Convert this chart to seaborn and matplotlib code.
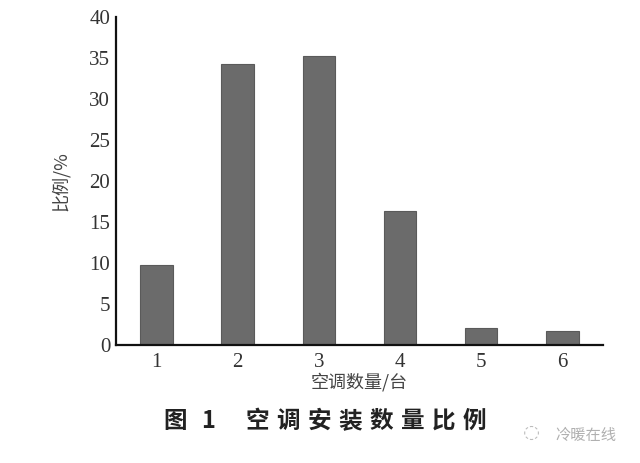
import matplotlib
matplotlib.use("Agg")
import matplotlib.pyplot as plt
import seaborn as sns
import pandas as pd
import numpy as np

categories = ["1", "2", "3", "4", "5", "6"]
values = [9.7, 34.3, 35.2, 16.3, 2.1, 1.7]
yticks = [0, 5, 10, 15, 20, 25, 30, 35, 40]
caption_chars = ["图", "1", "空", "调", "安", "装", "数", "量", "比", "例"]

sns.set_style("white")
plt.rcParams['font.family'] = ['Noto Sans CJK SC', 'DejaVu Sans']

df = pd.DataFrame({"cat": categories, "val": values})

W, H = 640, 463
fig = plt.figure(figsize=(6.4, 4.63), dpi=100)
ax = fig.add_axes([0.181, 0.255, 0.761, 0.708])
sns.barplot(data=df, x="cat", y="val", color="#6b6b6b", width=0.4, saturation=1,
            edgecolor="#5a5a5a", linewidth=0.8, ax=ax)

ax.set_xlim(-0.5, 5.5)
ax.set_ylim(0, 40)
ax.set_yticks(yticks)
ax.set_yticklabels([str(t) for t in yticks], family="Liberation Serif", fontsize=15, color="#333333")
ax.set_xticklabels(categories, family="Liberation Serif", fontsize=15, color="#333333")
ax.set_xticks(np.arange(0.5, 6.0, 1.0), minor=True)
ax.tick_params(axis="x", which="major", length=0, pad=6)
ax.tick_params(axis="x", which="minor", direction="in", length=5, width=1.2, color="#222222")
ax.tick_params(axis="y", which="major", direction="in", length=6, width=1.2, color="#222222", pad=4)

for s in ["top", "right"]:
    ax.spines[s].set_visible(False)
for s in ["left", "bottom"]:
    ax.spines[s].set_color("#111111")
    ax.spines[s].set_linewidth(1.6)

ax.set_xlabel("空调数量/台", fontsize=13, color="#444444", labelpad=0)
ax.set_ylabel("比例/%", fontsize=13, color="#444444", labelpad=14)

# caption, characters spaced out as in the reference
xs_px = [175, 208] + [257 + 31.1 * i for i in range(8)]
for ch, xp in zip(caption_chars, xs_px):
    fig.text(xp / W, 1 - 421 / H, ch, ha="center", va="center",
             fontsize=17, fontweight="bold", color="#222222")

fig.text(0.915, 0.06, "冷暖在线", ha="center", va="center",
         fontsize=11, color="#b0b0b0", style="italic")
fig.text(0.83, 0.065, "◌", ha="center", va="center", fontsize=14, color="#bbbbbb",
         family=["DejaVu Sans"])

fig.savefig("out.png", dpi=100, facecolor="white")
